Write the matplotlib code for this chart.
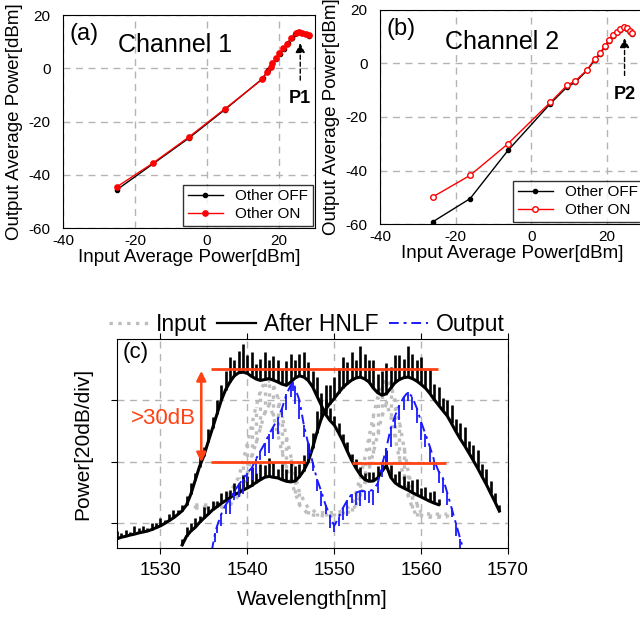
import numpy as np
import matplotlib
matplotlib.use("Agg")
import matplotlib.pyplot as plt

plt.rcParams['font.family'] = ['Liberation Sans', 'DejaVu Sans']
plt.rcParams['axes.unicode_minus'] = False

# ---- panel (a): channel 1 transfer curve
ch1_on_x = [-25, -15, -5, 5, 15.3, 16.7, 17.7, 18.1, 19.1, 20, 21.1, 22.3, 23.3, 24.7, 25.6, 26.5, 27.4, 28.4]
ch1_on_y = [-44.5, -35.6, -25.8, -15.2, -4.2, -1.3, 0.6, 1.8, 3.7, 5.6, 7.5, 9.3, 11.2, 13.1, 13.5, 13.1, 12.7, 12.4]
ch1_off_x = [-25, -5, 5, 15.5, 17, 18, 19.2, 20.2, 21.3, 22.5, 23.5, 24.5, 25.3, 26.2, 27.2, 28.2]
ch1_off_y = [-45.6, -26.2, -15.5, -3.8, -0.5, 1.5, 3.3, 5.3, 7.3, 9.5, 11.5, 13.0, 13.7, 13.3, 12.8, 12.3]

# ---- panel (b): channel 2 transfer curve
ch2_x = [-26.1, -16.2, -6.2, 5.0, 9.4, 11.6, 14.7, 16.7, 18.1, 19.4, 20.5, 21.5, 22.7, 23.5, 24.4, 25.3, 26.0, 26.6]
ch2_on_y = [-49.9, -41.8, -30, -14.5, -8.2, -6.5, -2.4, 1.7, 3.8, 6.7, 8.8, 10.7, 11.9, 12.9, 13.8, 13.2, 12.2, 11.3]
ch2_off_y = [-59.2, -50.5, -32.5, -15, -8.8, -7, -2.6, 1.3, 3.5, 6.3, 8.5, 10.4, 11.7, 12.7, 13.5, 12.8, 11.8, 11]

# ---- panel (c): spectra (dB, relative)
hnlf_a_wl = np.arange(1525, 1562.5, 0.5)
hnlf_a_base = [-5.0, -4.5, -4.2, -3.8, -3.5, -3.1, -2.8, -2.5, -2.0, -1.4, -0.8, 0.0, 0.9, 1.8, 2.9, 4.1, 6.0,
               9.5, 14.0, 18.5, 22.0, 26.6, 31.0, 35.5, 40.0,
               43.5, 46.0, 48.0, 49.0, 49.2, 48.8, 47.8, 47.0, 46.5, 46.8, 47.1, 46.6, 46.0, 45.3, 44.9, 46.0, 47.3, 48.0, 47.6, 46.5,
               44.5, 41.5, 38.5, 35.5, 33.5, 32.0,
               29.5, 26.7, 23.5, 20.5, 18.0, 15.8, 14.3, 13.7,
               13.8, 14.8, 17.0, 18.8, 15.0, 13.2, 12.2, 11.5, 10.8, 10.0, 9.3, 8.6, 7.9, 7.2, 6.6, 6.1]
hnlf_a_spike = [2.5, 1.5, 2.0, 1.0, 2.5, 1.5, 2.0, 1.0, 2.0, 1.5, 2.5, 1.0, 2.0, 2.5, 1.5, 2.0, 3.0,
                3.5, 2.5, 4.0, 3.0, 4.0, 3.5, 4.5, 5.0,
                6, 8, 5, 7, 9, 6, 8, 5, 7, 9, 6, 8, 7, 5, 8, 9, 6, 7, 8, 6,
                5, 6, 4, 5, 4, 3,
                3, 2.5, 3, 2, 3, 2.5, 2, 3,
                3, 4, 3, 5, 4, 3, 5, 4, 3, 4, 5, 3, 4, 3, 4, 2]

hnlf_b_wl = np.arange(1532.5, 1569.5, 0.5)
hnlf_b_base = [-7.0, -4.2, -2.5, -1.3, 0.3, 1.7, 3.0, 4.4, 5.4, 6.5, 7.4, 8.4,
               9.3, 10.0, 10.8, 11.5, 12.3, 13.3, 14.2, 15.0, 15.3, 15.0, 14.8, 14.2, 13.7, 13.5, 13.8, 15.2, 17.2, 20.0,
               24.5, 29.5, 34.0, 37.0, 39.0, 40.6,
               42.5, 44.2, 45.5, 46.6, 47.3, 47.6, 47.0, 46.0, 44.0, 42.5, 41.7, 42.2, 44.0, 45.8, 46.8, 47.4, 47.6, 47.1,
               46.3, 45.2, 44.0, 42.3,
               40.3, 38.5, 36.7, 35.0, 32.5, 29.9, 27.5, 25.3, 22.9, 20.5, 18.0, 15.3, 12.7, 9.8, 7.0, 4.0]
hnlf_b_spike = [2, 3, 2.5, 3, 2, 3.5, 2.5, 3, 2, 3.5, 3, 2.5,
                4, 3, 5, 4, 6, 3, 5, 4, 6, 5, 3, 5, 4, 6, 5, 4, 5, 6,
                5, 7, 6, 8, 6, 7,
                8, 10, 7, 9, 6, 10, 8, 7, 9, 6, 8, 10, 7, 9, 8, 6, 10, 8, 7, 9, 6, 8,
                5, 6, 4, 5, 6, 4, 5, 6, 4, 5, 6, 4, 5, 4, 3, 2]

input_wl = [1534, 1535, 1536, 1537, 1538, 1539,
            1539.5, 1540, 1540.5, 1541, 1541.5, 1542, 1542.5, 1543, 1543.5, 1544, 1544.5, 1545, 1545.5, 1546,
            1547, 1548, 1549, 1550, 1551, 1552,
            1552.5, 1553, 1553.5, 1554, 1554.5, 1555, 1555.5, 1556, 1556.5, 1557, 1557.5, 1558, 1558.5, 1559, 1559.5,
            1560, 1561, 1562, 1563]
input_db = [5.5, 5.5, 5.5, 6, 8, 12,
            16, 21, 27, 32, 37, 41, 42.5, 40, 35, 29, 23, 18, 13, 8,
            4, 3, 3, 3, 3.5, 5,
            8, 12, 17, 23, 29, 35, 40, 43, 40, 34, 27, 20, 13, 8, 4.5,
            3, 2.5, 2.5, 2.5]
input_spread = [0.5, 0.5, 0.5, 1, 2, 3,
                4, 5, 5, 6, 6, 5, 4, 5, 6, 6, 5, 4, 3, 2,
                1, 0.5, 0.5, 0.5, 0.5, 1,
                2, 3, 4, 5, 6, 6, 5, 4, 5, 6, 6, 5, 4, 3, 2,
                0.5, 0.5, 0.5, 0.5]

output_wl = [1535.9, 1536.3, 1536.5, 1537, 1537.5, 1538, 1538.5, 1539, 1539.5, 1540, 1540.5, 1541, 1541.5, 1542,
             1542.5, 1543, 1543.5, 1544, 1544.5, 1545, 1545.3, 1545.5, 1546, 1546.5, 1547, 1547.5, 1548, 1548.5,
             1549, 1549.5, 1550, 1550.5, 1551, 1551.5, 1552, 1552.5, 1553, 1553.5, 1554, 1554.5, 1555, 1555.5,
             1556, 1556.5, 1557, 1557.5, 1558, 1558.5, 1559, 1559.5, 1560, 1560.5, 1561, 1561.5, 1562, 1562.5,
             1563, 1563.5, 1564, 1564.5, 1565]
output_db = [-9, -3, -1, 3, 6, 8, 10.5, 12.5, 14.5, 16.5, 18, 21, 23.5, 26, 29, 31.5, 34, 37.5, 42, 45,
             46, 44, 40, 32, 26, 20, 14.5, 10.5, 6, 2.5, -0.8, 2, 5, 7.5, 9.5, 10, 10.5, 10.5, 10.5, 11, 13,
             19, 24.5, 31, 35, 38.5, 41, 42.8, 41, 37.5, 33, 29, 25, 20.5, 17, 14.8, 10, 5, 0, -5, -10]
output_dip = [2, 3, 2, 4, 3, 5, 3, 4, 5, 3, 4, 5, 3, 4, 6, 4, 5, 3, 5, 4,
              3, 5, 6, 4, 5, 3, 4, 5, 3, 4, 2, 3, 4, 5, 3, 4, 5, 3, 4, 5, 3,
              4, 5, 6, 4, 5, 4, 3, 4, 5, 6, 4, 5, 3, 4, 5, 4, 3, 4, 3, 2]

RED = '#ff4214'
BLUE = '#1a1aff'
GRID = dict(color='#b4b4b4', linestyle=(0, (5, 4)), linewidth=1)

fig = plt.figure(figsize=(6.4, 6.24), dpi=100)


def transfer_panel(rect, xs_off, ys_off, xs_on, ys_on, on_open, tag, title, title_xy, plabel, px):
    ax = fig.add_axes(rect)
    ax.plot(xs_off, ys_off, '-o', color='k', lw=1, ms=3, label='Other OFF')
    if on_open:
        ax.plot(xs_on, ys_on, '-o', color='red', lw=1, ms=4, mfc='white', mew=1, label='Other ON')
    else:
        ax.plot(xs_on, ys_on, '-o', color='red', lw=1, ms=3.8, label='Other ON')
    ax.set_xlim(-40, 30)
    ax.set_ylim(-60, 20)
    ax.set_xticks([-40, -20, 0, 20])
    ax.set_yticks([-60, -40, -20, 0, 20])
    ax.grid(True, **GRID)
    ax.tick_params(length=0, labelsize=11, pad=4)
    ax.tick_params(axis='y', pad=9)
    ax.set_xlabel('Input Average Power[dBm]', fontsize=13.5, labelpad=1)
    ax.set_ylabel('Output Average Power[dBm]', fontsize=13.5, labelpad=4)
    ax.text(-38.2, 13, tag, fontsize=17, va='center')
    ax.text(title_xy[0], title_xy[1], title, fontsize=18, va='center')
    ax.annotate('', xy=(px, 10.5), xytext=(px, -5.5),
                arrowprops=dict(arrowstyle='-|>', color='k', lw=1, linestyle=(0, (3, 2)),
                                mutation_scale=14))
    ax.text(px, -11.5, plabel, fontsize=13, fontweight='bold', ha='center', va='center')
    leg = ax.legend(loc='lower right', fontsize=11, frameon=True, fancybox=False, edgecolor='k',
                    borderaxespad=0.15, handlelength=2.3, borderpad=0.3, labelspacing=0.25)
    leg.get_frame().set_linewidth(1)
    return ax


transfer_panel([0.0984, 0.6346, 0.3938, 0.3413], ch1_off_x, ch1_off_y, ch1_on_x, ch1_on_y,
               False, '(a)', 'Channel 1', (-24.7, 8.8), 'P1', 25.9)
transfer_panel([0.5938, 0.641, 0.414, 0.343], ch2_x, ch2_off_y, ch2_x, ch2_on_y,
               True, '(b)', 'Channel 2', (-22.8, 8), 'P2', 24.6)

# ---- panel (c)
ax = fig.add_axes([0.1828, 0.1218, 0.611, 0.335])
ax.set_xlim(1525, 1570)
ax.set_ylim(-8, 60)
ax.set_xticks([1530, 1540, 1550, 1560, 1570])
ax.set_yticks([0, 20, 40])
ax.set_yticklabels([])
ax.grid(True, **GRID)
ax.set_axisbelow(True)
ax.tick_params(direction='out', length=4, labelsize=13.5, pad=6, top=True)

in_lo = np.array(input_db) - np.array(input_spread)
in_hi = np.array(input_db) + np.array(input_spread)
ax.vlines(input_wl, in_lo, in_hi, color='#bdbdbd', linestyles=':', lw=2.4)
ax.plot(input_wl, in_hi, ':', color='#bdbdbd', lw=2.4)
ax.plot(input_wl, in_lo, ':', color='#bdbdbd', lw=2.4, label='Input')

for wl, base, spike in [(hnlf_a_wl, hnlf_a_base, hnlf_a_spike), (hnlf_b_wl, hnlf_b_base, hnlf_b_spike)]:
    base = np.array(base)
    ax.vlines(wl, base, base + np.array(spike), color='k', lw=1.9)
    ax.plot(wl, base, color='k', lw=2.2)
ax.plot([], [], color='k', lw=1.6, label='After HNLF')

out = np.array(output_db)
ax.vlines(output_wl, out - np.array(output_dip), out, color=BLUE, lw=1.3)
ax.plot(output_wl, out, color=BLUE, lw=1.4, linestyle=(0, (5, 2.5, 1.5, 2.5)), label='Output')

ax.hlines(50.3, 1535.8, 1561.9, color=RED, lw=2)
ax.hlines(20.0, 1535.8, 1546.6, color=RED, lw=2)
ax.hlines(19.6, 1552.1, 1562.9, color=RED, lw=2)
ax.annotate('', xy=(1534.7, 50.5), xytext=(1534.7, 19.0),
            arrowprops=dict(arrowstyle='<|-|>', color=RED, lw=1.8, mutation_scale=14))
ax.text(1530.3, 34.2, '>30dB', color=RED, fontsize=16, ha='center', va='center')
ax.text(1525.6, 55.5, '(c)', fontsize=16, va='center')

ax.set_xlabel('Wavelength[nm]', fontsize=15, labelpad=8)
ax.set_ylabel('Power[20dB/div]', fontsize=15, labelpad=8)
ax.legend(loc='center', bbox_to_anchor=(0.485, 1.067), ncol=3, frameon=False, fontsize=16.5,
          handlelength=1.7, handletextpad=0.35, columnspacing=0.45, borderpad=0, borderaxespad=0)

fig.savefig('out.png', dpi=100)
